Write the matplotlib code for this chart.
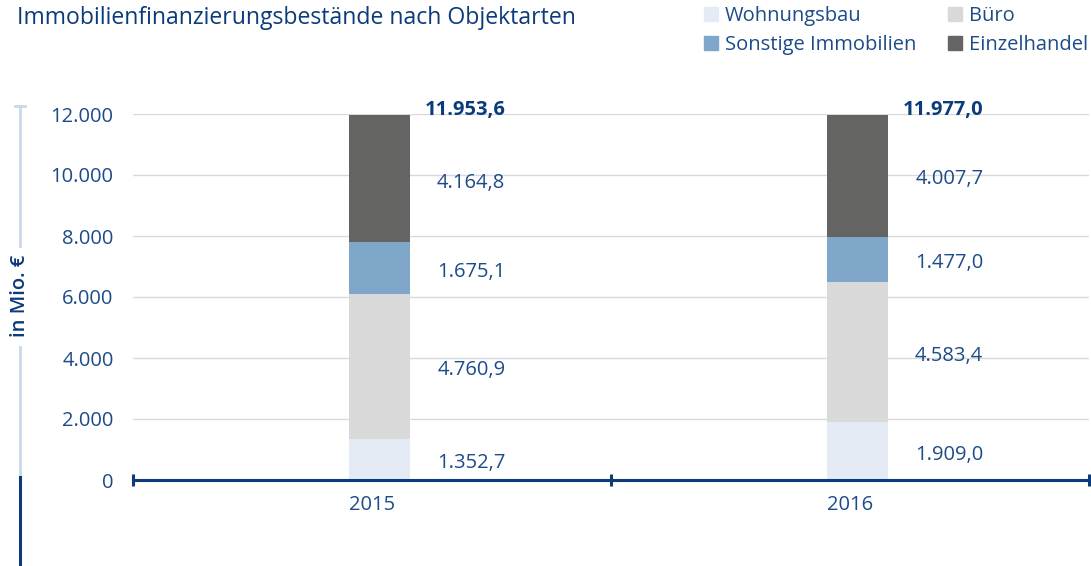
import numpy as np
from matplotlib import use
use('Agg')
import matplotlib.pyplot as plt
from matplotlib.patches import Patch
from matplotlib.lines import Line2D

plt.rcParams['font.family'] = ['Open Sans', 'DejaVu Sans']

years = ['2015', '2016']
kategorien = ['Wohnungsbau', 'Büro', 'Sonstige Immobilien', 'Einzelhandel']
wohnungsbau = [1352.7, 1909.0]
buero = [4760.9, 4583.4]
sonstige = [1675.1, 1477.0]
einzelhandel = [4164.8, 4007.7]
gesamt = [11953.6, 11977.0]
yticks = [0, 2000, 4000, 6000, 8000, 10000, 12000]
yticklabels = ['0', '2.000', '4.000', '6.000', '8.000', '10.000', '12.000']

farben = ['#e4ebf4', '#d9d9d9', '#7fa7c9', '#646462']
navy = '#0b3b7a'
txt = '#1d4b88'
fs = 14.5


def de(v):
    s = '{:,.1f}'.format(v)
    return s.replace(',', 'X').replace('.', ',').replace('X', '.')


fig = plt.figure(figsize=(10.91, 5.66), dpi=100)
ax = fig.add_axes([133 / 1091, 1 - 480 / 566, 956 / 1091, 366 / 566])

x = np.arange(len(years))
xb = x + 0.016
breite = 0.128
serien = [wohnungsbau, buero, sonstige, einzelhandel]
unten = np.zeros(len(years))
for werte, farbe, name in zip(serien, farben, kategorien):
    werte = np.array(werte)
    ax.bar(xb, werte, breite, bottom=unten, color=farbe, label=name, zorder=2)
    for i in range(len(years)):
        ax.text(xb[i] + 0.263, unten[i] + werte[i] / 2 - 120, de(werte[i]), ha='right', va='center',
                fontsize=fs, color=txt)
    unten = unten + werte

for i in range(len(years)):
    ax.text(xb[i] + 0.263, gesamt[i] + 170, de(gesamt[i]), ha='right', va='center',
            fontsize=fs, color=navy, fontweight='bold', clip_on=False)

ax.set_xlim(-0.5, 1.5)
ax.set_ylim(0, 12000)
ax.set_yticks(yticks)
ax.set_yticklabels(yticklabels)
ax.set_xticks(x)
ax.set_xticklabels(years)
ax.set_xticks([-0.5, 0.5, 1.5], minor=True)
ax.tick_params(axis='y', length=0, pad=14, labelsize=fs, labelcolor=txt)
ax.tick_params(axis='x', which='major', length=0, pad=11, labelsize=fs, labelcolor=txt)
ax.tick_params(axis='x', which='minor', length=9, width=2.2, direction='inout', color=navy)
ax.grid(axis='y', color='#d9d9d9', linewidth=1, zorder=0)
ax.set_axisbelow(True)
for s in ['top', 'right', 'left']:
    ax.spines[s].set_visible(False)
ax.spines['bottom'].set_color(navy)
ax.spines['bottom'].set_linewidth(2.2)
ax.spines['bottom'].set_zorder(3)

fig.text(17 / 1091, 1 - 18 / 566, 'Immobilienfinanzierungsbestände nach Objektarten',
         fontsize=16.6, color=navy, va='center', ha='left', fontweight='medium')

handles = [Patch(color=farben[0]), Patch(color=farben[2]), Patch(color=farben[1]), Patch(color=farben[3])]
labels = [kategorien[0], kategorien[2], kategorien[1], kategorien[3]]
leg = fig.legend(handles, labels, ncol=2, loc='upper left', bbox_to_anchor=(704 / 1091, 1 - 6 / 566),
                 frameon=False, fontsize=fs, handlelength=0.7, handleheight=0.7, handletextpad=0.35,
                 columnspacing=1.55, labelspacing=0.45, borderaxespad=0, borderpad=0)
for t in leg.get_texts():
    t.set_color(txt)

# y axis title with decor line
lx = 20 / 1091
fig.add_artist(Line2D([lx, lx], [1 - 106 / 566, 1 - 246 / 566], color='#c9d9ea', linewidth=2))
fig.add_artist(Line2D([lx - 5 / 1091, lx + 5 / 1091], [1 - 106 / 566, 1 - 106 / 566], color='#c9d9ea', linewidth=2))
fig.add_artist(Line2D([lx, lx], [1 - 347 / 566, 1 - 477 / 566], color='#c9d9ea', linewidth=2))
fig.add_artist(Line2D([lx, lx], [1 - 477 / 566, 0], color=navy, linewidth=2.2))
fig.text(lx, 1 - 296 / 566, 'in Mio. €', rotation=90, fontsize=fs, color=navy,
         ha='center', va='center', fontweight='semibold')

fig.savefig('out.png', dpi=100)
